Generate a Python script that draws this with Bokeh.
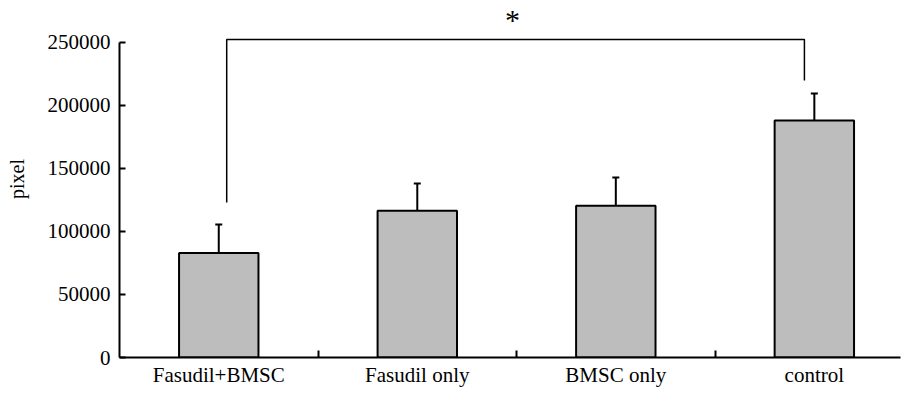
from bokeh.plotting import figure
from bokeh.models import FixedTicker, Whisker, TeeHead, ColumnDataSource, Range1d
from bokeh.core.properties import value
from bokeh.embed import file_html
from bokeh.resources import INLINE

categories = ["Fasudil+BMSC", "Fasudil only", "BMSC only", "control"]
means = [83000, 116500, 120500, 188000]
errors = [22500, 21500, 22300, 21500]
y_ticks = [0, 50000, 100000, 150000, 200000, 250000]
y_tick_labels = ["0", "50000", "100000", "150000", "200000", "250000"]
bracket_x = [1.04, 1.04, 3.95, 3.95]
bracket_y = [123000, 252400, 252400, 219800]
star_x = [2.48]
star_y = [268000]
star_text = ["*"]

xs = list(range(1, len(categories) + 1))
src = ColumnDataSource(dict(x=xs, top=means,
                            upper=[m + e for m, e in zip(means, errors)]))

FONT = "Liberation Serif"

p = figure(frame_width=781, frame_height=357, width=903, height=393,
           x_range=Range1d(0.5, 4.434), y_range=Range1d(0, 283333),
           output_backend="svg", toolbar_location=None,
           min_border_left=119, min_border_right=3, min_border_top=0,
           min_border_bottom=36)
p.outline_line_color = None
p.grid.visible = False
p.background_fill_color = "white"

p.vbar(x="x", top="top", width=0.4, bottom=0, source=src,
       fill_color="#bdbdbd", line_color="black", line_width=2)

wh = Whisker(base="x", lower="top", upper="upper", source=src,
             line_color="black", line_width=2,
             upper_head=TeeHead(size=7, line_color="black", line_width=2),
             lower_head=None)
p.add_layout(wh)

p.line(bracket_x, bracket_y, line_color="black", line_width=1.5)
p.text(star_x, star_y, text=star_text, text_font=value(FONT),
       text_font_size="30px", text_align="center", text_baseline="middle",
       text_color="black")

# y axis
ya = p.yaxis[0]
ya.ticker = FixedTicker(ticks=y_ticks)
ya.major_label_overrides = {t: l for t, l in zip(y_ticks, y_tick_labels)}
ya.bounds = (0, 250000)
ya.major_tick_in = 6
ya.major_tick_out = 0
ya.minor_tick_in = 0
ya.minor_tick_out = 0
ya.axis_line_width = 2
ya.major_tick_line_width = 2
ya.major_label_standoff = 9
ya.major_label_text_font = FONT
ya.major_label_text_font_size = "21px"
ya.major_label_text_color = "black"
ya.axis_label = "pixel"
ya.axis_label_text_font = FONT
ya.axis_label_text_font_size = "20px"
ya.axis_label_text_font_style = "normal"
ya.axis_label_standoff = 17
ya.axis_label_text_color = "black"

# x axis
xa = p.xaxis[0]
xa.ticker = FixedTicker(ticks=xs, minor_ticks=[1.5, 2.5, 3.5])
xa.major_label_overrides = {x: c for x, c in zip(xs, categories)}
xa.major_tick_in = 0
xa.major_tick_out = 0
xa.minor_tick_in = 7
xa.minor_tick_out = 0
xa.minor_tick_line_width = 2
xa.axis_line_width = 2
xa.major_label_standoff = 5
xa.major_label_text_font = FONT
xa.major_label_text_font_size = "21px"
xa.major_label_text_color = "black"

open("out.html", "w").write(file_html(p, INLINE))
